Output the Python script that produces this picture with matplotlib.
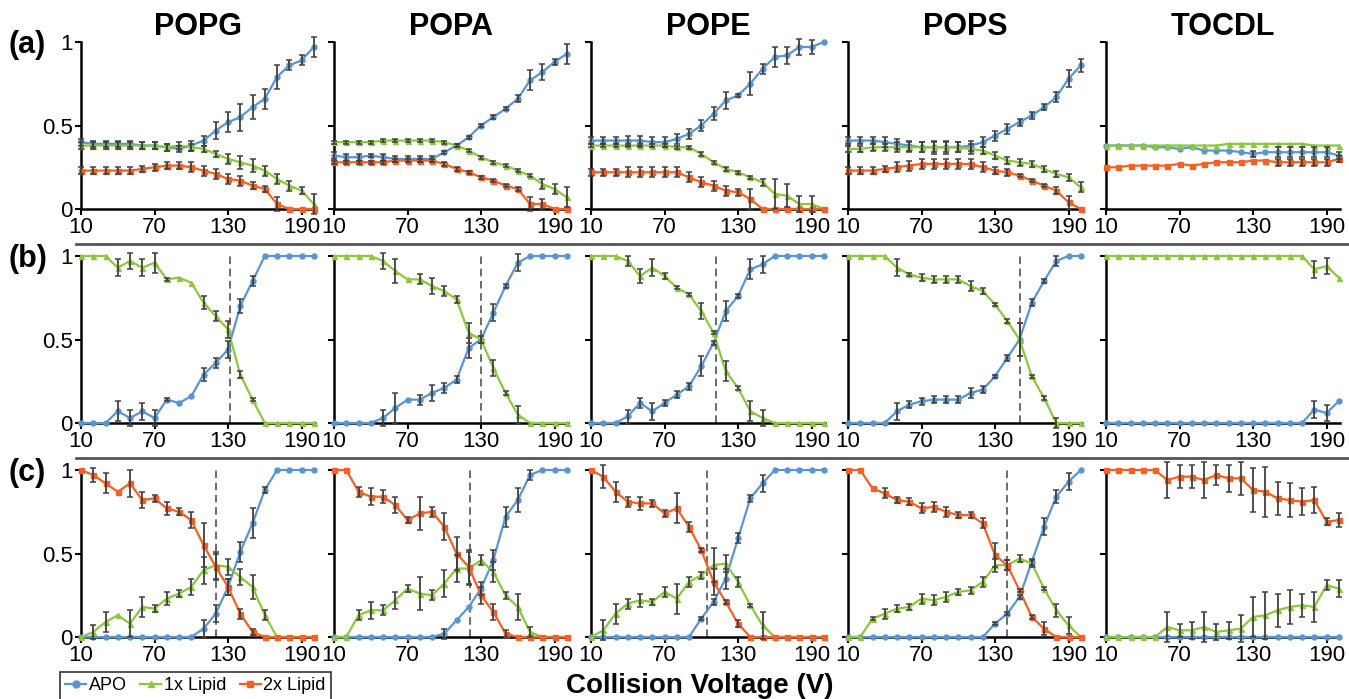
import numpy as np
import matplotlib
matplotlib.use("Agg")
import matplotlib.pyplot as plt
from matplotlib.lines import Line2D

plt.rcParams["font.family"] = ["Liberation Sans", "DejaVu Sans"]

#===================== data =====================#
x = [10, 20, 30, 40, 50, 60, 70, 80, 90, 100, 110, 120, 130, 140, 150, 160, 170, 180, 190, 200]
lipids = ["POPG", "POPA", "POPE", "POPS", "TOCDL"]
row_labels = ["(a)", "(b)", "(c)"]
xticks = [10, 70, 130, 190]

# row (a)
popg_a_apo = [0.40, 0.39, 0.39, 0.39, 0.39, 0.38, 0.38, 0.37, 0.36, 0.38, 0.41, 0.47, 0.52, 0.55, 0.61, 0.66, 0.79, 0.86, 0.89, 0.97]
popg_a_apo_err = [0.02, 0.02, 0.02, 0.02, 0.02, 0.02, 0.02, 0.02, 0.02, 0.03, 0.03, 0.05, 0.06, 0.08, 0.07, 0.06, 0.07, 0.03, 0.03, 0.06]
popg_a_one = [0.38, 0.38, 0.38, 0.38, 0.38, 0.38, 0.38, 0.37, 0.38, 0.37, 0.36, 0.33, 0.30, 0.28, 0.26, 0.23, 0.18, 0.14, 0.11, 0.03]
popg_a_one_err = [0.02, 0.02, 0.02, 0.02, 0.02, 0.02, 0.02, 0.02, 0.02, 0.02, 0.02, 0.02, 0.03, 0.04, 0.04, 0.03, 0.03, 0.03, 0.02, 0.06]
popg_a_two = [0.23, 0.23, 0.23, 0.23, 0.23, 0.24, 0.25, 0.26, 0.26, 0.25, 0.23, 0.21, 0.18, 0.17, 0.14, 0.12, 0.03, 0.0, 0.0, 0.0]
popg_a_two_err = [0.02, 0.02, 0.02, 0.02, 0.02, 0.02, 0.02, 0.02, 0.02, 0.03, 0.03, 0.03, 0.03, 0.03, 0.02, 0.02, 0.04, 0, 0, 0]

popa_a_apo = [0.32, 0.31, 0.31, 0.32, 0.31, 0.30, 0.30, 0.30, 0.30, 0.34, 0.38, 0.43, 0.50, 0.55, 0.60, 0.66, 0.77, 0.82, 0.88, 0.93]
popa_a_apo_err = [0.02, 0.02, 0.02, 0.01, 0.02, 0.02, 0.02, 0.02, 0.02, 0.01, 0.01, 0.01, 0.01, 0.01, 0.01, 0.02, 0.06, 0.05, 0.02, 0.06]
popa_a_one = [0.40, 0.40, 0.40, 0.40, 0.41, 0.41, 0.41, 0.41, 0.41, 0.40, 0.38, 0.35, 0.31, 0.28, 0.26, 0.23, 0.20, 0.15, 0.12, 0.07]
popa_a_one_err = [0.01, 0.01, 0.01, 0.01, 0.01, 0.01, 0.01, 0.01, 0.01, 0.01, 0.01, 0.01, 0.01, 0.01, 0.01, 0.01, 0.01, 0.03, 0.03, 0.06]
popa_a_two = [0.28, 0.28, 0.28, 0.28, 0.28, 0.29, 0.29, 0.29, 0.29, 0.27, 0.24, 0.22, 0.19, 0.17, 0.14, 0.12, 0.03, 0.03, 0.0, 0.0]
popa_a_two_err = [0.01, 0.01, 0.01, 0.01, 0.01, 0.01, 0.01, 0.01, 0.01, 0.01, 0.01, 0.01, 0.01, 0.01, 0.01, 0.01, 0.04, 0.03, 0, 0]

pope_a_apo = [0.41, 0.41, 0.41, 0.41, 0.41, 0.40, 0.40, 0.42, 0.45, 0.50, 0.57, 0.65, 0.68, 0.75, 0.84, 0.91, 0.92, 0.97, 0.97, 1.00]
pope_a_apo_err = [0.02, 0.02, 0.02, 0.03, 0.03, 0.03, 0.03, 0.03, 0.03, 0.03, 0.04, 0.05, 0.01, 0.07, 0.03, 0.06, 0.05, 0.05, 0.04, 0]
pope_a_one = [0.38, 0.38, 0.38, 0.38, 0.38, 0.38, 0.38, 0.37, 0.37, 0.33, 0.28, 0.24, 0.22, 0.19, 0.16, 0.09, 0.08, 0.03, 0.03, 0.0]
pope_a_one_err = [0.01, 0.01, 0.01, 0.01, 0.01, 0.01, 0.01, 0.01, 0.01, 0.01, 0.01, 0.01, 0.01, 0.01, 0.02, 0.09, 0.07, 0.05, 0.05, 0]
pope_a_two = [0.22, 0.22, 0.22, 0.22, 0.22, 0.22, 0.22, 0.22, 0.19, 0.16, 0.14, 0.11, 0.10, 0.06, 0.0, 0.0, 0.0, 0.0, 0.0, 0.0]
pope_a_two_err = [0.02, 0.02, 0.02, 0.03, 0.03, 0.03, 0.03, 0.03, 0.03, 0.03, 0.03, 0.03, 0.02, 0.06, 0, 0, 0, 0, 0, 0]

pops_a_apo = [0.41, 0.41, 0.41, 0.40, 0.39, 0.38, 0.37, 0.37, 0.37, 0.37, 0.38, 0.40, 0.44, 0.48, 0.52, 0.56, 0.61, 0.67, 0.78, 0.86]
pops_a_apo_err = [0.02, 0.02, 0.02, 0.03, 0.03, 0.03, 0.03, 0.03, 0.03, 0.03, 0.03, 0.03, 0.03, 0.03, 0.02, 0.02, 0.02, 0.03, 0.05, 0.04]
pops_a_one = [0.36, 0.36, 0.37, 0.37, 0.37, 0.37, 0.37, 0.37, 0.37, 0.37, 0.36, 0.35, 0.32, 0.29, 0.28, 0.27, 0.24, 0.21, 0.19, 0.13]
pops_a_one_err = [0.02, 0.02, 0.02, 0.02, 0.03, 0.03, 0.03, 0.04, 0.04, 0.03, 0.03, 0.02, 0.02, 0.02, 0.02, 0.02, 0.02, 0.02, 0.02, 0.03]
pops_a_two = [0.23, 0.23, 0.23, 0.24, 0.25, 0.26, 0.27, 0.27, 0.27, 0.27, 0.27, 0.25, 0.23, 0.22, 0.20, 0.17, 0.14, 0.11, 0.04, 0.0]
pops_a_two_err = [0.02, 0.02, 0.02, 0.02, 0.03, 0.03, 0.03, 0.03, 0.03, 0.03, 0.03, 0.03, 0.02, 0.02, 0.01, 0.01, 0.01, 0.02, 0.04, 0]

tocdl_a_apo = [0.38, 0.38, 0.38, 0.38, 0.37, 0.37, 0.36, 0.37, 0.35, 0.35, 0.35, 0.34, 0.33, 0.34, 0.34, 0.34, 0.34, 0.34, 0.34, 0.32]
tocdl_a_apo_err = [0, 0, 0, 0, 0, 0, 0, 0, 0, 0, 0, 0, 0.02, 0, 0.03, 0.03, 0.03, 0.03, 0.03, 0.02]
tocdl_a_one = [0.38, 0.38, 0.38, 0.38, 0.38, 0.38, 0.38, 0.38, 0.38, 0.38, 0.39, 0.39, 0.39, 0.39, 0.39, 0.39, 0.39, 0.38, 0.38, 0.38]
tocdl_a_one_err = [0] * 20
tocdl_a_two = [0.25, 0.25, 0.26, 0.26, 0.26, 0.26, 0.27, 0.26, 0.27, 0.28, 0.28, 0.28, 0.29, 0.29, 0.28, 0.28, 0.28, 0.28, 0.28, 0.30]
tocdl_a_two_err = [0, 0, 0, 0, 0, 0, 0, 0, 0, 0, 0, 0, 0, 0, 0.02, 0.02, 0.02, 0.02, 0.02, 0.02]

# row (b)
popg_b_apo = [0, 0, 0, 0.07, 0.03, 0.07, 0.03, 0.14, 0.12, 0.16, 0.29, 0.36, 0.44, 0.70, 0.85, 1, 1, 1, 1, 1]
popg_b_apo_err = [0, 0, 0, 0.06, 0.05, 0.05, 0.05, 0.01, 0, 0, 0.04, 0.03, 0.05, 0.04, 0.03, 0, 0, 0, 0, 0]
popg_b_one = [1, 1, 1, 0.93, 0.97, 0.93, 0.96, 0.86, 0.87, 0.84, 0.72, 0.64, 0.56, 0.29, 0.14, 0, 0, 0, 0, 0]
popg_b_one_err = [0, 0, 0, 0.05, 0.05, 0.05, 0.06, 0.01, 0, 0, 0.04, 0.03, 0.05, 0.02, 0.01, 0, 0, 0, 0, 0]

popa_b_apo = [0, 0, 0, 0, 0.03, 0.09, 0.14, 0.14, 0.18, 0.21, 0.26, 0.45, 0.50, 0.66, 0.82, 0.96, 1, 1, 1, 1]
popa_b_apo_err = [0, 0, 0, 0, 0.05, 0.09, 0, 0.03, 0.05, 0.03, 0.02, 0.06, 0.02, 0.05, 0.01, 0.05, 0, 0, 0, 0]
popa_b_one = [1, 1, 1, 1, 0.97, 0.91, 0.86, 0.86, 0.82, 0.79, 0.74, 0.54, 0.50, 0.33, 0.18, 0.05, 0, 0, 0, 0]
popa_b_one_err = [0, 0, 0, 0, 0.05, 0.07, 0, 0.03, 0.05, 0.03, 0.02, 0.06, 0.02, 0.05, 0.01, 0.05, 0, 0, 0, 0]

pope_b_apo = [0, 0, 0, 0.04, 0.12, 0.07, 0.12, 0.17, 0.22, 0.34, 0.48, 0.67, 0.76, 0.92, 0.95, 1, 1, 1, 1, 1]
pope_b_apo_err = [0, 0, 0, 0.04, 0.03, 0.05, 0.02, 0.02, 0.02, 0.06, 0.01, 0.06, 0.01, 0.06, 0.05, 0, 0, 0, 0, 0]
pope_b_one = [1, 1, 1, 0.97, 0.88, 0.93, 0.88, 0.81, 0.77, 0.67, 0.54, 0.31, 0.21, 0.07, 0.03, 0, 0, 0, 0, 0]
pope_b_one_err = [0, 0, 0, 0.03, 0.04, 0.05, 0.02, 0.01, 0.01, 0.05, 0.01, 0.06, 0.01, 0.06, 0.05, 0, 0, 0, 0, 0]

pops_b_apo = [0, 0, 0, 0, 0.07, 0.11, 0.13, 0.14, 0.14, 0.14, 0.18, 0.20, 0.28, 0.39, 0.50, 0.72, 0.85, 0.97, 1, 1]
pops_b_apo_err = [0, 0, 0, 0, 0.05, 0.02, 0.02, 0.02, 0.02, 0.02, 0.03, 0.02, 0.01, 0.02, 0.10, 0.02, 0.01, 0.03, 0, 0]
pops_b_one = [1, 1, 1, 1, 0.93, 0.89, 0.87, 0.86, 0.86, 0.86, 0.82, 0.79, 0.71, 0.61, 0.50, 0.28, 0.15, 0, 0, 0]
pops_b_one_err = [0, 0, 0, 0, 0.05, 0.01, 0.02, 0.02, 0.02, 0.02, 0.03, 0.02, 0.01, 0.01, 0.10, 0.01, 0.01, 0.03, 0, 0]

tocdl_b_apo = [0, 0, 0, 0, 0, 0, 0, 0, 0, 0, 0, 0, 0, 0, 0, 0, 0, 0.08, 0.06, 0.13]
tocdl_b_apo_err = [0, 0, 0, 0, 0, 0, 0, 0, 0, 0, 0, 0, 0, 0, 0, 0, 0, 0.05, 0.05, 0]
tocdl_b_one = [1, 1, 1, 1, 1, 1, 1, 1, 1, 1, 1, 1, 1, 1, 1, 1, 1, 0.92, 0.94, 0.87]
tocdl_b_one_err = [0, 0, 0, 0, 0, 0, 0, 0, 0, 0, 0, 0, 0, 0, 0, 0, 0, 0.05, 0.05, 0]

# row (c)
popg_c_apo = [0, 0, 0, 0, 0, 0, 0, 0, 0, 0, 0.05, 0.14, 0.30, 0.51, 0.68, 0.88, 1, 1, 1, 1]
popg_c_apo_err = [0, 0, 0, 0, 0, 0, 0, 0, 0, 0, 0.05, 0.05, 0.05, 0.06, 0.09, 0.02, 0, 0, 0, 0]
popg_c_one = [0, 0.03, 0.09, 0.13, 0.08, 0.18, 0.17, 0.23, 0.26, 0.30, 0.40, 0.43, 0.42, 0.36, 0.30, 0.13, 0, 0, 0, 0]
popg_c_one_err = [0, 0.04, 0.06, 0, 0.08, 0.06, 0.02, 0.04, 0.02, 0.05, 0.08, 0.08, 0.05, 0.05, 0.07, 0.03, 0, 0, 0, 0]
popg_c_two = [1.0, 0.97, 0.92, 0.87, 0.92, 0.82, 0.83, 0.77, 0.75, 0.70, 0.55, 0.42, 0.30, 0.14, 0.03, 0, 0, 0, 0, 0]
popg_c_two_err = [0, 0.04, 0.06, 0, 0.08, 0.05, 0.02, 0.04, 0.02, 0.05, 0.13, 0.08, 0.05, 0.03, 0.02, 0, 0, 0, 0, 0]

popa_c_apo = [0, 0, 0, 0, 0, 0, 0, 0, 0, 0.02, 0.10, 0.18, 0.29, 0.46, 0.72, 0.82, 0.97, 1, 1, 1]
popa_c_apo_err = [0, 0, 0, 0, 0, 0, 0, 0, 0, 0.03, 0, 0, 0.04, 0.06, 0.06, 0.07, 0.03, 0, 0, 0]
popa_c_one = [0, 0, 0.13, 0.16, 0.16, 0.22, 0.29, 0.26, 0.25, 0.32, 0.41, 0.41, 0.46, 0.39, 0.25, 0.18, 0.03, 0, 0, 0]
popa_c_one_err = [0, 0, 0.03, 0.05, 0.03, 0.05, 0.02, 0.10, 0.03, 0.08, 0.08, 0.10, 0.03, 0.06, 0.02, 0.08, 0.03, 0, 0, 0]
popa_c_two = [1.0, 1.0, 0.87, 0.84, 0.84, 0.79, 0.70, 0.74, 0.75, 0.66, 0.50, 0.42, 0.25, 0.15, 0.02, 0, 0, 0, 0, 0]
popa_c_two_err = [0, 0, 0.03, 0.05, 0.04, 0.05, 0.02, 0.10, 0.03, 0.08, 0.10, 0.10, 0.05, 0.05, 0.02, 0, 0, 0, 0, 0]

pope_c_apo = [0, 0, 0, 0, 0, 0, 0, 0, 0, 0.11, 0.21, 0.35, 0.59, 0.83, 0.92, 1, 1, 1, 1, 1]
pope_c_apo_err = [0, 0, 0, 0, 0, 0, 0, 0, 0, 0.01, 0.02, 0.06, 0.03, 0.02, 0.05, 0, 0, 0, 0, 0]
pope_c_one = [0, 0.04, 0.14, 0.20, 0.22, 0.21, 0.27, 0.23, 0.33, 0.37, 0.43, 0.44, 0.33, 0.19, 0.07, 0, 0, 0, 0, 0]
pope_c_one_err = [0, 0.06, 0.06, 0.03, 0.04, 0.02, 0.03, 0.09, 0.03, 0.02, 0.10, 0.05, 0.03, 0.01, 0.08, 0, 0, 0, 0, 0]
pope_c_two = [1.0, 0.96, 0.87, 0.81, 0.80, 0.80, 0.74, 0.77, 0.66, 0.52, 0.33, 0.21, 0.08, 0, 0, 0, 0, 0, 0, 0]
pope_c_two_err = [0, 0.07, 0.06, 0.03, 0.04, 0.02, 0.02, 0.09, 0.03, 0.01, 0.08, 0.01, 0.02, 0, 0, 0, 0, 0, 0, 0]

pops_c_apo = [0, 0, 0, 0, 0, 0, 0, 0, 0, 0, 0, 0, 0.08, 0.14, 0.24, 0.45, 0.66, 0.84, 0.93, 1.0]
pops_c_apo_err = [0, 0, 0, 0, 0, 0, 0, 0, 0, 0, 0, 0, 0.01, 0.01, 0.01, 0.02, 0.05, 0.04, 0.05, 0]
pops_c_one = [0, 0, 0.11, 0.14, 0.17, 0.18, 0.23, 0.22, 0.24, 0.27, 0.28, 0.33, 0.43, 0.43, 0.47, 0.44, 0.29, 0.16, 0.07, 0]
pops_c_one_err = [0, 0, 0.01, 0.03, 0.02, 0.02, 0.03, 0.03, 0.03, 0.02, 0.02, 0.03, 0.04, 0.03, 0.02, 0.02, 0.01, 0.04, 0.05, 0]
pops_c_two = [1.0, 1.0, 0.89, 0.86, 0.82, 0.81, 0.77, 0.78, 0.75, 0.73, 0.73, 0.68, 0.49, 0.43, 0.28, 0.12, 0.05, 0, 0, 0]
pops_c_two_err = [0, 0, 0, 0.03, 0.02, 0.02, 0.03, 0.03, 0.03, 0.02, 0.02, 0.03, 0.07, 0.03, 0.01, 0.01, 0.04, 0, 0, 0]

tocdl_c_apo = [0] * 20
tocdl_c_apo_err = [0] * 20
tocdl_c_one = [0, 0, 0, 0, 0, 0.06, 0.04, 0.04, 0.06, 0.03, 0.04, 0.05, 0.12, 0.13, 0.16, 0.18, 0.19, 0.18, 0.31, 0.29]
tocdl_c_one_err = [0, 0, 0, 0, 0, 0.09, 0.04, 0.05, 0.09, 0.05, 0.05, 0.08, 0.12, 0.14, 0.10, 0.10, 0.07, 0.09, 0.03, 0.05]
tocdl_c_two = [1, 1, 1, 1, 1, 0.94, 0.96, 0.96, 0.94, 0.97, 0.95, 0.95, 0.88, 0.87, 0.83, 0.82, 0.81, 0.82, 0.69, 0.70]
tocdl_c_two_err = [0, 0, 0, 0, 0, 0.11, 0.07, 0.07, 0.11, 0.06, 0.08, 0.10, 0.13, 0.15, 0.10, 0.10, 0.08, 0.08, 0.02, 0.04]

# dashed crossover voltages, rows (b) and (c)
cross_b = [132, 130, 112, 150, None]
cross_c = [120, 121, 105, 140, None]
#================================================#

c_apo = "#5b95d0"
c_one = "#8dc63f"
c_two = "#f26125"
err_col = "#404040"

series_a = [
    [(popg_a_apo, popg_a_apo_err), (popg_a_one, popg_a_one_err), (popg_a_two, popg_a_two_err)],
    [(popa_a_apo, popa_a_apo_err), (popa_a_one, popa_a_one_err), (popa_a_two, popa_a_two_err)],
    [(pope_a_apo, pope_a_apo_err), (pope_a_one, pope_a_one_err), (pope_a_two, pope_a_two_err)],
    [(pops_a_apo, pops_a_apo_err), (pops_a_one, pops_a_one_err), (pops_a_two, pops_a_two_err)],
    [(tocdl_a_apo, tocdl_a_apo_err), (tocdl_a_one, tocdl_a_one_err), (tocdl_a_two, tocdl_a_two_err)],
]
series_b = [
    [(popg_b_apo, popg_b_apo_err), (popg_b_one, popg_b_one_err), None],
    [(popa_b_apo, popa_b_apo_err), (popa_b_one, popa_b_one_err), None],
    [(pope_b_apo, pope_b_apo_err), (pope_b_one, pope_b_one_err), None],
    [(pops_b_apo, pops_b_apo_err), (pops_b_one, pops_b_one_err), None],
    [(tocdl_b_apo, tocdl_b_apo_err), (tocdl_b_one, tocdl_b_one_err), None],
]
series_c = [
    [(popg_c_apo, popg_c_apo_err), (popg_c_one, popg_c_one_err), (popg_c_two, popg_c_two_err)],
    [(popa_c_apo, popa_c_apo_err), (popa_c_one, popa_c_one_err), (popa_c_two, popa_c_two_err)],
    [(pope_c_apo, pope_c_apo_err), (pope_c_one, pope_c_one_err), (pope_c_two, pope_c_two_err)],
    [(pops_c_apo, pops_c_apo_err), (pops_c_one, pops_c_one_err), (pops_c_two, pops_c_two_err)],
    [(tocdl_c_apo, tocdl_c_apo_err), (tocdl_c_one, tocdl_c_one_err), (tocdl_c_two, tocdl_c_two_err)],
]
rows = [series_a, series_b, series_c]
crosses = [[None] * 5, cross_b, cross_c]

styles = [(c_apo, "o"), (c_one, "^"), (c_two, "s")]

W, H = 1349, 699
fig = plt.figure(figsize=(W / 100, H / 100), dpi=100)

col_left = [81, 334, 591, 848, 1106]
ax_w = 234
row_top = [42, 256, 470]
ax_h = 167

xv = np.array(x)


def draw(ax, y, err, color, marker):
    y = np.array(y, dtype=float)
    err = np.array(err, dtype=float)
    ax.plot(xv, y, color=color, lw=1.6, marker=marker, ms=3.6, mec=color,
            clip_on=False, zorder=3)
    m = err > 0
    if m.any():
        ax.errorbar(xv[m], y[m], yerr=err[m], fmt="none", ecolor=err_col,
                    elinewidth=1.3, capsize=2.2, capthick=1.1, clip_on=False, zorder=4)


for r in range(3):
    for c in range(5):
        ax = fig.add_axes([col_left[c] / W, 1 - (row_top[r] + ax_h) / H, ax_w / W, ax_h / H])
        for s, (color, marker) in zip(rows[r][c], styles):
            if s is None:
                continue
            draw(ax, s[0], s[1], color, marker)
        if crosses[r][c] is not None:
            ax.plot([crosses[r][c]] * 2, [0, 1], color="#444444", lw=1.1,
                    ls=(0, (5, 3)), zorder=2)
        ax.set_xlim(10, 201)
        ax.set_ylim(0, 1)
        ax.set_xticks(xticks)
        ax.set_yticks([0, 0.5, 1])
        if c == 0:
            ax.set_yticklabels(["0", "0.5", "1"])
        else:
            ax.set_yticklabels([])
        ax.tick_params(direction="out", length=4, width=1.5, labelsize=16, pad=2)
        for side in ["top", "right"]:
            ax.spines[side].set_visible(False)
        for side in ["left", "bottom"]:
            ax.spines[side].set_linewidth(1.8)
            ax.spines[side].set_zorder(2.5)
        ax.patch.set_alpha(0)
        if r == 0:
            ax.set_title(lipids[c], fontsize=22, fontweight="bold", pad=2)

for r, lab in enumerate(row_labels):
    fig.text(8 / W, 1 - (row_top[r] + 3) / H, lab, fontsize=22, fontweight="bold",
             ha="left", va="center")

# row separators
for ysep in [244, 458]:
    fig.add_artist(Line2D([76 / W, 1.0], [1 - ysep / H] * 2, color="#555555", lw=2))

fig.text(700 / W, 1 - 686 / H, "Collision Voltage (V)", fontsize=20,
         fontweight="bold", ha="center", va="center")

handles = [Line2D([], [], color=col, marker=mk, ms=5, lw=1.6) for col, mk in styles]
leg = fig.legend(handles, ["APO", "1x Lipid", "2x Lipid"], loc="upper left",
                 bbox_to_anchor=(60 / W, 1 - 672 / H), ncol=3, fontsize=13,
                 frameon=True, fancybox=False, edgecolor="black", handlelength=1.15,
                 handletextpad=0.15, columnspacing=0.75, borderpad=0.3,
                 borderaxespad=0)
leg.get_frame().set_linewidth(1.2)

fig.savefig("out.png", dpi=100)
